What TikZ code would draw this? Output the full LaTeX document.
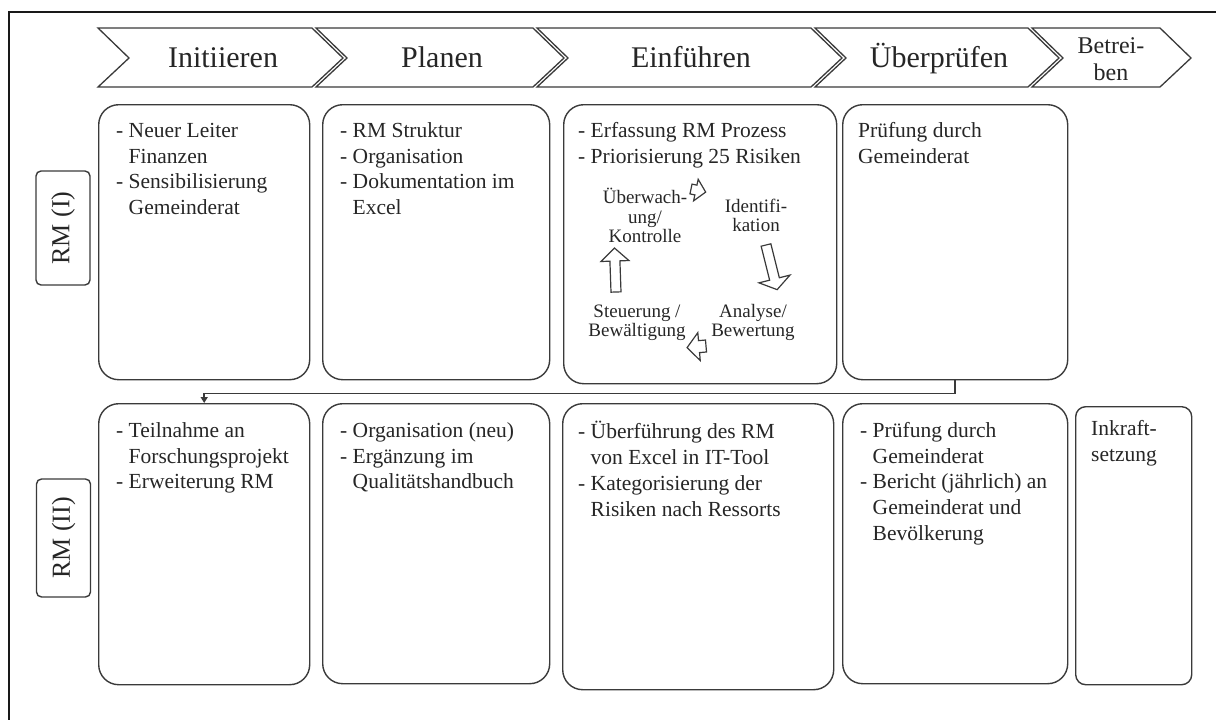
\documentclass[tikz,border=0pt]{standalone}
\usepackage{fontspec}
\setmainfont{Liberation Serif}
\usetikzlibrary{arrows.meta}
\definecolor{ln}{HTML}{3A3A3A}
\definecolor{tx}{HTML}{262626}
\newcommand{\hng}{\hphantom{-}\ }
\newcommand{\fst}{\rule{0pt}{16pt}}
\newcommand{\cst}{\rule{0pt}{14pt}}
\begin{document}
\begin{tikzpicture}[x=1pt,y=-1pt,
  chev/.style={draw=ln, line width=1.3pt, fill=white, line join=miter},
  chevtxt/.style={font=\fontsize{30}{32}\selectfont, text=tx, inner sep=0pt, anchor=base, align=center},
  box/.style={draw=ln, line width=1.4pt, rounded corners=20pt, anchor=north west, inner sep=0pt},
  sbox/.style={draw=ln, line width=1.4pt, rounded corners=10pt, anchor=north west, inner sep=0pt},
  txt/.style={font=\fontsize{21.5}{25.8}\selectfont, text=tx, inner sep=0pt, anchor=north west, align=left},
  cyctxt/.style={font=\fontsize{19}{19.5}\selectfont, text=tx, inner sep=0pt, anchor=north, align=center},
  cyc/.style={draw=ln, line width=1.2pt, fill=white, line join=miter},
  rmlab/.style={draw=ln, line width=1.4pt, rounded corners=5pt, rotate=90, font=\fontsize{26}{28}\selectfont, text=tx, inner sep=0pt, minimum height=54pt},
  conn/.style={draw=ln, line width=1.8pt, -{Triangle[length=6pt,width=7pt]}},
  frame/.style={draw=black!90, line width=2.5pt}
]
\useasboundingbox (0,0) rectangle (1216,720);
% outer frame
\draw[frame] (9,720) -- (9,12) -- (1216,12);

% chevrons
\draw[chev] (98,28) -- (312,28) -- (343,58) -- (312,87) -- (98,87) -- (129,58) -- cycle;
\draw[chev] (316,28) -- (533,28) -- (564,58) -- (533,87) -- (316,87) -- (347,58) -- cycle;
\draw[chev] (537,28) -- (811,28) -- (842,58) -- (811,87) -- (537,87) -- (568,58) -- cycle;
\draw[chev] (815,28) -- (1028,28) -- (1059,58) -- (1028,87) -- (815,87) -- (846,58) -- cycle;
\draw[chev] (1032,28) -- (1160,28) -- (1191,58) -- (1160,87) -- (1032,87) -- (1063,58) -- cycle;
\node[chevtxt] (c1) at (223,67) {Initiieren};
\node[chevtxt] (c2) at (442,67) {Planen};
\node[chevtxt] (c3) at (691,67) {Einführen};
\node[chevtxt] (c4) at (939,67) {Überprüfen};
\node[chevtxt, font=\fontsize{24}{27}\selectfont] (c5) at (1111,80) {Betrei-\\ben};

% row labels
\node[rmlab, minimum width=114pt] (rm1) at (63,228) {RM (I)};
\node[rmlab, minimum width=118pt] (rm2) at (63.5,538) {RM (II)};

% row 1 boxes
\node[box, minimum width=211pt, minimum height=275pt] (b11) at (98,104) {};
\node[box, minimum width=227pt, minimum height=275pt] (b12) at (322,104) {};
\node[box, minimum width=273pt, minimum height=279pt] (b13) at (563,104) {};
\node[box, minimum width=225pt, minimum height=275pt] (b14) at (842,104) {};
% row 2 boxes
\node[box, minimum width=211pt, minimum height=281pt] (b21) at (98,403) {};
\node[box, minimum width=227pt, minimum height=280pt] (b22) at (322,403) {};
\node[box, minimum width=271pt, minimum height=286pt] (b23) at (562,403) {};
\node[box, minimum width=225pt, minimum height=280pt] (b24) at (842,403) {};
\node[sbox, minimum width=116pt, minimum height=278pt] (b25) at (1075,406) {};

% connector
\draw[conn] (b14.south) -- ++(0,13) -| (b21.north);

% row 1 texts
\node[txt] (t11) at (116,121) {\fst- Neuer Leiter\\\hng Finanzen\\- Sensibilisierung\\\hng Gemeinderat};
\node[txt] (t12) at (340,121) {\fst- RM Struktur\\- Organisation\\- Dokumentation im\\\hng Excel};
\node[txt] (t13) at (578,121) {\fst- Erfassung RM Prozess\\- Priorisierung 25 Risiken};
\node[txt] (t14) at (858,121) {\fst Prüfung durch\\Gemeinderat};
% row 2 texts
\node[txt] (t21) at (116,421) {\fst- Teilnahme an\\\hng Forschungsprojekt\\- Erweiterung RM};
\node[txt] (t22) at (340,421) {\fst- Organisation (neu)\\- Ergänzung im\\\hng Qualitätshandbuch};
\node[txt] (t23) at (578,421) {\fst- Überführung des RM\\\hng von Excel in IT-Tool\\- Kategorisierung der\\\hng Risiken nach Ressorts};
\node[txt] (t24) at (860,421) {\fst- Prüfung durch\\\hng Gemeinderat\\- Bericht (jährlich) an\\\hng Gemeinderat und\\\hng Bevölkerung};
\node[txt] (t25) at (1091,419) {\fst Inkraft-\\setzung};

% cycle labels
\node[cyctxt] (k1) at (645,188) {\cst Überwach-\\ung/\\Kontrolle};
\node[cyctxt] (k2) at (756,198) {\cst Identifi-\\kation};
\node[cyctxt] (k3) at (753,303) {\cst Analyse/\\Bewertung};
\node[cyctxt] (k4) at (637,303) {\cst Steuerung /\\Bewältigung};

% cycle arrows
\draw[cyc, shift={(691,189)}, rotate=-12] (0,-5) -- (5,-5) -- (5,-11) -- (15,0) -- (5,11) -- (5,5) -- (0,5) -- cycle;
\draw[cyc, shift={(766,245)}, rotate=-76] (0,-5) -- (35,-5) -- (35,-16) -- (46,0) -- (35,16) -- (35,5) -- (0,5) -- cycle;
\draw[cyc, shift={(706,346)}, rotate=185] (0,-6) -- (7,-6) -- (7,-14) -- (19,0) -- (7,14) -- (7,6) -- (0,6) -- cycle;
\draw[cyc, shift={(616,292)}, rotate=92] (0,-5) -- (31,-5) -- (31,-14) -- (44,0) -- (31,14) -- (31,5) -- (0,5) -- cycle;
\end{tikzpicture}
\end{document}
